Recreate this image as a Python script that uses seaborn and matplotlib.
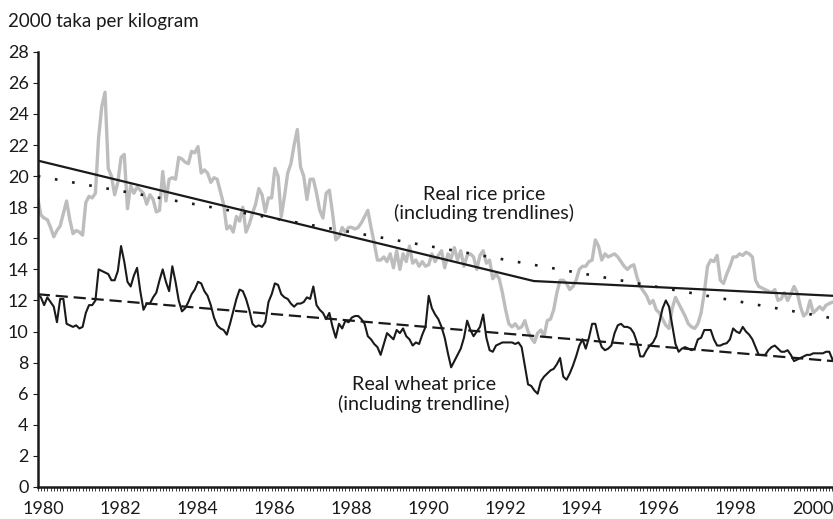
import numpy as np
import pandas as pd
import matplotlib
matplotlib.use("Agg")
import matplotlib.pyplot as plt
from matplotlib.ticker import MultipleLocator, FixedLocator
import seaborn as sns

# monthly real prices, Jan 1980 - Sep 2000 (2000 taka per kg)
rice = [
    18.6, 17.5, 17.3, 17.2, 16.7, 16.1, 16.5, 16.8, 17.6, 18.4, 17.2, 16.3,  # 1980
    16.5, 16.4, 16.2, 18.3, 18.7, 18.6, 18.9, 22.5, 24.5, 25.4, 20.5, 20.0,  # 1981
    18.8, 19.6, 21.2, 21.4, 17.9, 19.4, 18.9, 19.3, 19.1, 18.9, 18.2, 18.8,  # 1982
    18.5, 17.7, 17.8, 20.3, 18.4, 19.8, 19.9, 19.8, 21.2, 21.1, 20.9, 20.8,  # 1983
    21.6, 21.5, 21.9, 20.2, 20.4, 20.2, 19.6, 19.9, 19.8, 19.0, 18.2, 16.6,  # 1984
    16.8, 16.4, 17.4, 17.1, 18.0, 16.4, 16.9, 17.6, 18.2, 19.2, 18.8, 17.7,  # 1985
    18.6, 18.6, 20.5, 20.0, 17.4, 18.7, 20.2, 20.8, 22.0, 23.0, 20.6, 20.0,  # 1986
    18.5, 19.8, 19.8, 18.9, 17.8, 17.3, 18.9, 19.1, 17.6, 15.9, 16.1, 16.7,  # 1987
    16.4, 16.7, 16.7, 16.6, 16.7, 17.0, 17.4, 17.8, 16.7, 15.7, 14.6, 14.6,  # 1988
    14.8, 14.5, 15.0, 14.1, 15.2, 14.0, 15.0, 14.5, 15.5, 14.4, 14.6, 14.2,  # 1989
    14.5, 14.2, 14.3, 15.0, 14.5, 14.9, 15.2, 14.1, 15.0, 14.7, 15.4, 14.6,  # 1990
    15.2, 14.2, 14.9, 15.0, 14.8, 14.0, 14.9, 15.2, 14.4, 14.6, 13.4, 13.7,  # 1991
    13.4, 12.5, 11.4, 10.5, 10.3, 10.5, 10.2, 10.3, 10.7, 10.0, 9.6, 9.3,    # 1992
    9.9, 10.1, 9.7, 10.7, 10.8, 11.4, 12.5, 13.3, 13.3, 13.1, 12.7, 12.9,    # 1993
    13.3, 14.0, 14.2, 14.2, 14.5, 14.6, 15.9, 15.5, 14.6, 15.0, 14.8, 14.9,  # 1994
    15.0, 14.8, 14.5, 14.2, 14.0, 14.2, 14.3, 13.5, 12.9, 12.6, 12.3, 11.8,  # 1995
    12.0, 11.4, 11.2, 10.8, 10.4, 10.2, 11.5, 12.2, 11.8, 11.4, 11.0, 10.5,  # 1996
    10.3, 10.2, 10.5, 11.2, 12.5, 14.2, 14.6, 14.5, 14.9, 13.3, 13.1, 13.7,  # 1997
    14.2, 14.8, 14.8, 15.0, 14.9, 15.1, 15.0, 14.8, 13.3, 12.9, 12.8, 12.7,  # 1998
    12.6, 12.5, 12.7, 12.0, 12.1, 12.5, 12.0, 12.4, 12.9, 12.5, 11.6, 11.0,  # 1999
    11.2, 12.0, 11.2, 11.4, 11.6, 11.4, 11.7, 11.8, 11.9,                    # 2000
]

wheat = [
    12.4, 12.2, 11.7, 12.2, 11.9, 11.6, 10.6, 12.1, 12.1, 10.5, 10.4, 10.3,  # 1980
    10.4, 10.2, 10.3, 11.2, 11.7, 11.7, 12.0, 14.0, 13.9, 13.8, 13.7, 13.3,  # 1981
    13.3, 13.9, 15.5, 14.5, 13.2, 12.9, 13.6, 14.1, 12.6, 11.4, 11.8, 11.8,  # 1982
    12.2, 12.5, 13.3, 14.0, 13.2, 12.6, 14.2, 13.2, 12.0, 11.3, 11.5, 11.9,  # 1983
    12.4, 12.7, 13.2, 13.1, 12.6, 12.3, 11.7, 10.9, 10.4, 10.2, 10.1, 9.8,   # 1984
    10.5, 11.3, 12.1, 12.7, 12.6, 12.1, 11.4, 10.5, 10.3, 10.4, 10.3, 10.6,  # 1985
    11.9, 12.4, 13.1, 13.0, 12.4, 12.2, 12.1, 11.8, 11.6, 11.8, 11.8, 11.9,  # 1986
    12.2, 12.1, 12.9, 11.7, 11.4, 11.2, 10.8, 11.2, 10.3, 9.6, 10.5, 10.2,   # 1987
    10.7, 10.6, 10.9, 11.0, 11.0, 10.8, 10.5, 9.7, 9.5, 9.2, 9.0, 8.5,       # 1988
    9.2, 9.9, 9.7, 9.5, 10.1, 9.9, 10.2, 9.7, 9.5, 9.1, 9.3, 9.2,           # 1989
    9.8, 10.3, 12.3, 11.5, 11.1, 10.8, 10.3, 9.6, 8.6, 7.7, 8.1, 8.5,       # 1990
    8.9, 9.6, 10.7, 10.1, 9.7, 10.0, 10.3, 11.1, 9.6, 8.8, 8.7, 9.1,        # 1991
    9.2, 9.3, 9.3, 9.3, 9.3, 9.2, 9.3, 9.0, 7.8, 6.6, 6.5, 6.2,             # 1992
    6.0, 6.8, 7.1, 7.3, 7.5, 7.6, 7.9, 8.3, 7.1, 6.9, 7.3, 7.8,             # 1993
    8.4, 9.1, 9.5, 8.9, 9.6, 10.5, 10.5, 9.6, 9.0, 8.8, 8.9, 9.1,           # 1994
    9.9, 10.4, 10.5, 10.3, 10.3, 10.2, 9.9, 9.3, 8.4, 8.4, 8.8, 9.1,        # 1995
    9.3, 9.7, 10.6, 11.5, 12.0, 11.6, 10.4, 9.2, 8.7, 8.9, 9.0, 8.9,        # 1996
    8.8, 8.9, 9.5, 9.6, 10.1, 10.1, 10.1, 9.5, 9.1, 9.1, 9.2, 9.25,         # 1997
    9.5, 10.2, 10.0, 9.9, 10.3, 10.0, 9.8, 9.5, 9.0, 8.5, 8.5, 8.5,         # 1998
    8.8, 9.0, 9.1, 8.9, 8.7, 8.7, 8.8, 8.5, 8.1, 8.2, 8.3, 8.4,             # 1999
    8.5, 8.5, 8.6, 8.6, 8.6, 8.6, 8.7, 8.7, 8.2,                            # 2000
]

# trendlines (end / break points)
rice_trend_x = [1980.0, 1992.9, 2000.68]
rice_trend_y = [21.0, 13.25, 12.3]
rice_lin_x = [1980.0, 2000.68]
rice_lin_y = [20.0, 10.85]
wheat_lin_x = [1980.0, 2000.68]
wheat_lin_y = [12.4, 8.1]

year_labels = list(range(1980, 2001, 2))

df = pd.DataFrame({
    "date": 1980 + np.arange(len(rice)) / 12,
    "rice": rice,
    "wheat": wheat,
})

sns.set_theme(style="white")
plt.rcParams["font.family"] = ["Lato", "DejaVu Sans"]

fig = plt.figure(figsize=(8.33, 5.19), dpi=100)
ax = fig.add_axes([0.0453, 0.0617, 0.9547, 0.8385])

sns.lineplot(data=df, x="date", y="rice", ax=ax, color="#bdbdbd", lw=2.4)
sns.lineplot(x=rice_lin_x, y=rice_lin_y, ax=ax, color="#1a1a1a", lw=1.9,
             linestyle=(0, (1, 5.6)))
sns.lineplot(x=rice_trend_x, y=rice_trend_y, ax=ax, color="#1a1a1a", lw=1.6)
sns.lineplot(x=wheat_lin_x, y=wheat_lin_y, ax=ax, color="#1a1a1a", lw=1.6,
             linestyle=(0, (5.5, 2.6)))
sns.lineplot(data=df, x="date", y="wheat", ax=ax, color="#1a1a1a", lw=1.5)

ax.set_xlim(1980, 2000.68)
ax.set_ylim(0, 28)
ax.set_xlabel("")
ax.set_ylabel("")

ax.yaxis.set_major_locator(MultipleLocator(2))
ax.xaxis.set_major_locator(FixedLocator([y + 0.15 for y in year_labels]))
ax.set_xticklabels([str(y) for y in year_labels])
ax.xaxis.set_minor_locator(MultipleLocator(1 / 12))

ax.tick_params(axis="x", which="major", length=0, pad=10, labelsize=13,
               colors="#1a1a1a")
ax.tick_params(axis="x", which="minor", bottom=True, direction="out",
               length=3, width=0.6, color="#1a1a1a")
ax.tick_params(axis="y", which="major", left=True, direction="out",
               length=3.5, width=0.8, pad=3, labelsize=13, colors="#1a1a1a")

for side in ["top", "right"]:
    ax.spines[side].set_visible(False)
for side in ["left", "bottom"]:
    ax.spines[side].set_color("#1a1a1a")
    ax.spines[side].set_linewidth(1.8)

ax.text(1991.6, 18.2, "Real rice price\n(including trendlines)", ha="center",
        va="center", fontsize=14.2, color="#1a1a1a", linespacing=1.1)
ax.text(1990.05, 5.95, "Real wheat price\n(including trendline)", ha="center",
        va="center", fontsize=14.2, color="#1a1a1a", linespacing=1.1)

fig.text(0.01, 1 - 22 / 519, "2000 taka per kilogram", ha="left", va="center",
         fontsize=13.5, color="#1a1a1a")

fig.savefig("out.png", dpi=100)
